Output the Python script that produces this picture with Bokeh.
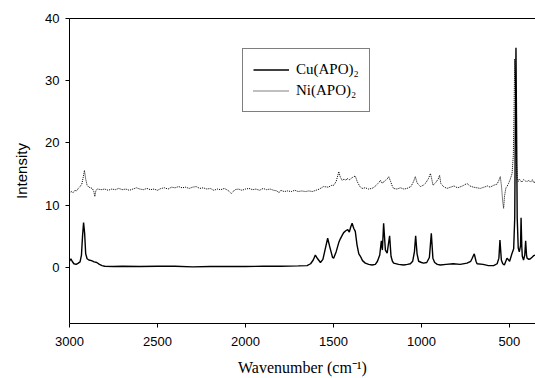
from bokeh.plotting import figure
from bokeh.models import Range1d, FixedTicker, LinearAxis, Legend, LegendItem
from bokeh.embed import file_html
from bokeh.resources import INLINE

# Raman spectra
cu_wn = [3000, 2992, 2985, 2975, 2962, 2950, 2940, 2932, 2926, 2920, 2914, 2908, 2900, 2890, 2875,
         2860, 2845, 2830, 2815, 2800, 2750, 2700, 2600, 2500, 2400, 2300, 2200, 2100, 2000, 1900,
         1800, 1700, 1650, 1630, 1615, 1603, 1590, 1574, 1560, 1545, 1533, 1520, 1505, 1499, 1485,
         1470, 1461, 1450, 1442, 1430, 1419, 1410, 1402, 1394, 1385, 1376, 1366, 1356, 1347, 1335,
         1319, 1300, 1280, 1262, 1250, 1237, 1228, 1222, 1215, 1205, 1195, 1181, 1173, 1165, 1158,
         1130, 1101, 1080, 1063, 1050, 1040, 1033, 1025, 1016, 1000, 988, 970, 955, 944, 935,
         925, 910, 893, 860, 820, 780, 741, 720, 713, 700, 690, 684, 650, 620, 590,
         570, 560, 554, 546, 538, 529, 514, 499, 485, 476, 470, 466, 463, 460, 456,
         450, 444, 437, 434, 430, 427, 420, 413, 408, 403, 400, 390, 381, 370, 363, 352]
cu_int = [1.0, 1.4, 1.0, 0.6, 0.5, 0.7, 0.9, 2.0, 5.0, 7.2, 5.5, 2.2, 1.4, 1.2, 1.1,
          0.9, 0.8, 0.5, 0.3, 0.2, 0.15, 0.2, 0.15, 0.2, 0.2, 0.1, 0.15, 0.15, 0.15, 0.2,
          0.2, 0.25, 0.3, 0.6, 1.2, 2.0, 1.4, 0.8, 1.3, 3.2, 4.7, 3.2, 1.6, 1.5, 2.5,
          4.0, 4.6, 5.2, 5.6, 5.9, 6.1, 5.7, 6.5, 7.1, 6.3, 5.8, 3.6, 2.2, 1.8, 1.1,
          0.7, 0.5, 0.4, 0.5, 1.0, 2.0, 4.3, 2.8, 7.1, 2.8, 2.3, 5.1, 1.8, 1.0, 0.7,
          0.5, 0.4, 0.5, 0.6, 1.0, 2.5, 5.1, 2.2, 1.0, 0.8, 0.7, 0.8, 1.6, 5.5, 1.5,
          0.8, 0.5, 0.4, 0.5, 0.6, 0.5, 0.7, 1.0, 1.4, 2.2, 1.0, 0.6, 0.5, 0.3, 0.3,
          0.6, 1.5, 4.4, 1.2, 0.6, 0.4, 1.5, 1.0, 2.3, 3.0, 8.0, 25.0, 35.3, 24.0, 8.0,
          3.1, 2.5, 3.5, 8.0, 3.5, 1.8, 1.2, 2.0, 4.3, 2.0, 1.5, 1.3, 1.4, 1.7, 1.9, 2.0]

ni_wn = [3000, 2990, 2980, 2970, 2960, 2950, 2940, 2930, 2922, 2915, 2908, 2900, 2890, 2880, 2870,
         2862, 2856, 2850, 2840, 2820, 2800, 2780, 2760, 2740, 2720, 2700, 2680, 2660, 2640, 2620,
         2600, 2580, 2560, 2540, 2520, 2500, 2480, 2460, 2440, 2420, 2400, 2380, 2360, 2340, 2320,
         2300, 2280, 2260, 2240, 2220, 2200, 2180, 2160, 2140, 2120, 2100, 2080, 2060, 2040, 2020,
         2000, 1980, 1960, 1940, 1920, 1900, 1880, 1860, 1840, 1820, 1810, 1800, 1780, 1760, 1740,
         1720, 1700, 1680, 1660, 1640, 1620, 1600, 1580, 1556, 1530, 1510, 1499, 1485, 1475, 1470,
         1462, 1451, 1440, 1430, 1423, 1410, 1400, 1390, 1376, 1365, 1350, 1338, 1320, 1300, 1281,
         1265, 1250, 1240, 1233, 1222, 1210, 1195, 1186, 1175, 1165, 1158, 1140, 1120, 1100, 1082,
         1060, 1045, 1035, 1025, 1006, 990, 975, 960, 949, 940, 935, 920, 905, 897, 890,
         875, 855, 835, 815, 795, 775, 760, 741, 725, 705, 685, 666, 645, 625, 610,
         590, 570, 560, 552, 545, 538, 533, 528, 520, 514, 505, 495, 485, 478, 474,
         470, 466, 462, 456, 450, 444, 438, 430, 420, 410, 400, 390, 380, 370, 362, 352]
ni_int = [12.0, 12.2, 12.0, 12.4, 12.3, 12.7, 13.0, 13.4, 14.5, 15.6, 14.2, 13.2, 12.9, 12.8, 12.7,
          12.2, 11.4, 12.4, 12.6, 12.5, 12.6, 12.4, 12.6, 12.5, 12.7, 12.5, 12.6, 12.4, 12.6, 12.8,
          12.6, 12.5, 12.7, 12.5, 12.6, 12.4, 12.7, 12.8, 12.6, 12.9, 12.8, 13.0, 12.8, 12.9, 12.7,
          12.9, 13.0, 12.7, 12.8, 12.6, 12.7, 12.4, 12.6, 12.5, 12.7, 12.4, 11.9, 12.5, 12.6, 12.4,
          12.6, 12.7, 12.5, 12.6, 12.4, 12.7, 12.5, 12.6, 12.4, 12.3, 12.0, 12.4, 12.2, 12.3, 12.2,
          12.4, 12.2, 12.3, 12.2, 12.3, 12.2, 12.4, 12.6, 13.0, 12.9, 13.2, 13.2, 13.8, 14.8, 15.4,
          14.6, 14.0, 14.2, 14.0, 14.3, 14.1, 14.3, 14.5, 14.7, 13.8, 13.0, 12.7, 12.8, 12.6, 12.7,
          13.0, 13.4, 13.7, 14.0, 13.5, 13.9, 14.2, 14.6, 13.8, 13.0, 12.7, 12.6, 12.8, 12.6, 12.7,
          13.0, 13.8, 14.6, 13.6, 13.0, 13.2, 13.6, 14.3, 15.1, 14.0, 13.2, 13.6, 14.2, 14.8, 13.5,
          13.0, 12.7, 12.9, 13.1, 12.8, 13.0, 13.2, 13.5, 13.1, 12.9, 12.8, 12.7, 12.9, 13.1, 12.9,
          13.2, 13.4, 14.0, 14.6, 13.0, 10.5, 9.5, 11.5, 12.8, 13.0, 13.5, 14.2, 15.1, 18.0, 25.0,
          33.5, 28.0, 18.0, 14.5, 13.8, 14.2, 14.0, 13.7, 14.1, 13.9, 13.8, 14.0, 13.7, 14.1, 13.6, 13.8]

x_ticks = [3000, 2500, 2000, 1500, 1000, 500]
y_ticks = [0, 10, 20, 30, 40]
series_labels = ["Cu(APO)\u2082", "Ni(APO)\u2082"]

p = figure(width=535, height=378, output_backend="svg", toolbar_location=None,
           x_range=Range1d(3000, 352), y_range=Range1d(-9, 40),
           min_border_left=69, min_border_top=18, min_border_right=0, min_border_bottom=55)
p.outline_line_color = None
p.grid.grid_line_color = None
p.background_fill_color = "white"

cu = p.line(cu_wn, cu_int, line_color="black", line_width=1.4)
ni = p.line(ni_wn, ni_int, line_color="black", line_width=1, line_dash="1 1")

for ax in (p.xaxis[0], p.yaxis[0]):
    ax.axis_line_color = "black"
    ax.major_tick_line_color = "black"
    ax.major_tick_out = 4
    ax.major_tick_in = 0
    ax.minor_tick_line_color = None
    ax.major_label_text_font = "Liberation Sans"
    ax.major_label_text_font_size = "13px"
    ax.major_label_text_color = "black"
    ax.axis_label_text_font_style = "normal"
    ax.axis_label_text_color = "black"

p.xaxis.ticker = FixedTicker(ticks=x_ticks)
p.yaxis.ticker = FixedTicker(ticks=y_ticks)
p.xaxis.major_label_standoff = 9
p.yaxis.major_label_standoff = 6
p.xaxis.axis_label = "Wavenumber (cm\u207b\u00b9)"
p.xaxis.axis_label_text_font = "Liberation Serif"
p.xaxis.axis_label_text_font_size = "16px"
p.xaxis.axis_label_standoff = 10
p.yaxis.axis_label = "Intensity"
p.yaxis.axis_label_text_font = "Liberation Sans"
p.yaxis.axis_label_text_font_size = "15px"
p.yaxis.axis_label_standoff = 12

top = LinearAxis(ticker=FixedTicker(ticks=[]), major_tick_out=0, major_tick_in=0,
                 minor_tick_line_color=None, major_label_text_font_size="0px",
                 axis_line_color="black")
p.add_layout(top, "above")

legend = Legend(items=[LegendItem(label=series_labels[0], renderers=[cu]),
                       LegendItem(label=series_labels[1], renderers=[ni])],
                location=(173, 211), orientation="vertical",
                label_text_font="Liberation Serif", label_text_font_size="15px",
                label_text_color="black", glyph_width=36, glyph_height=21,
                label_height=21, label_standoff=7, spacing=0, padding=10, margin=0,
                border_line_color="black", border_line_width=1,
                background_fill_color="white", background_fill_alpha=1.0)
p.add_layout(legend, "center")

open("out.html", "w").write(file_html(p, INLINE))
